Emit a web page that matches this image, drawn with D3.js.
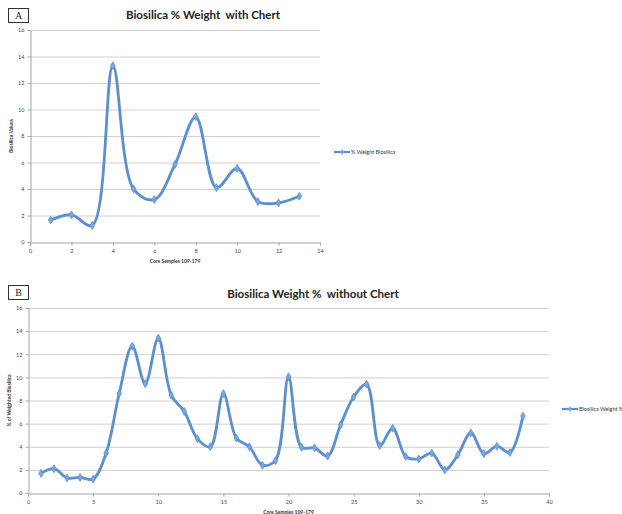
<!DOCTYPE html>
<html>
<head>
<meta charset="utf-8">
<script src="https://cdn.jsdelivr.net/npm/d3@7"></script>
<style>
html,body{margin:0;padding:0;background:#fff;}
svg{display:block;}
text.title{white-space:pre;}
</style>
</head>
<body>
<svg id="c" width="622" height="514"></svg>
<script>
// Chart A data
const samplesA = [1,2,3,4,5,6,7,8,9,10,11,12,13];
const valuesA = [1.65,2.05,1.25,13.3,4.0,3.2,5.85,9.45,4.1,5.55,3.05,2.95,3.45];
const xTicksA = [0,2,4,6,8,10,12,14];
const yTicks = [0,2,4,6,8,10,12,14,16];

// Chart B data
const samplesB = d3.range(1,39);
const valuesB = [1.7,2.1,1.3,1.35,1.2,3.45,8.6,12.7,9.45,13.4,8.45,7.05,4.7,4.0,8.6,4.75,4.0,2.4,2.8,10.05,
                 3.95,3.9,3.2,5.9,8.3,9.4,4.1,5.6,3.15,2.95,3.45,2.0,3.3,5.2,3.4,4.05,3.5,6.65];
const xTicksB = [0,5,10,15,20,25,30,35,40];

const titles = ["Biosilica % Weight  with Chert", "Biosilica Weight %  without Chert"];
const yTitles = ["Biosilica Values", "% of Weighted Biosilica"];
const xTitle = "Core Samples 109-179";
const legends = ["% Weight Biosilica", "Biosilica Weight %"];
const panels = ["A","B"];

const svg = d3.select("#c");
const lineColor = "#5a8fd0";

function drawChart(cfg){
  const g = svg.append("g");
  const x = d3.scaleLinear().domain(cfg.xDomain).range([cfg.left, cfg.right]);
  const y = d3.scaleLinear().domain([0,16]).range([cfg.bottom, cfg.top]);

  // panel box
  g.append("rect").attr("x",8.5).attr("y",cfg.boxY+0.5).attr("width",20).attr("height",14)
    .attr("fill","#fff").attr("stroke","#333").attr("stroke-width",1);
  g.append("text").attr("x",18.5).attr("y",cfg.boxY+11).attr("text-anchor","middle")
    .attr("font-family","Liberation Serif, serif").attr("font-size",10).attr("fill","#222").text(cfg.panel);

  // gridlines
  g.append("g").selectAll("line").data(yTicks.filter(d=>d>0)).join("line")
    .attr("x1",cfg.left).attr("x2",cfg.right).attr("y1",d=>y(d)+0.5).attr("y2",d=>y(d)+0.5)
    .attr("stroke","#d0d0d0").attr("stroke-width",1);

  // axes
  const ya = d3.axisLeft(y).tickValues(yTicks).tickSize(3).tickFormat(d3.format("d"));
  const yg = g.append("g").attr("transform",`translate(${cfg.left+0.5},0)`).call(ya);
  const xa = d3.axisBottom(x).tickValues(cfg.xTicks).tickSize(3).tickFormat(d3.format("d"));
  const xg = g.append("g").attr("transform",`translate(0,${cfg.bottom+0.5})`).call(xa);
  [yg,xg].forEach(a=>{
    a.select(".domain").attr("stroke","#a6a6a6");
    a.selectAll(".tick line").attr("stroke","#a6a6a6");
    a.selectAll("text").attr("font-family","Lato, Open Sans, sans-serif").attr("font-size",5.5).attr("fill","#444");
  });
  xg.selectAll("text").attr("dy","0.9em");

  // title
  g.append("text").attr("class","title").attr("x",cfg.titleX).attr("y",cfg.titleY).attr("text-anchor","middle")
    .attr("font-family","Lato, Open Sans, sans-serif").attr("font-weight","bold").attr("font-size",11.5)
    .attr("fill","#222").text(cfg.title);
  // axis titles
  g.append("text").attr("x",(cfg.left+cfg.right)/2).attr("y",cfg.bottom+21).attr("text-anchor","middle")
    .attr("font-family","Lato, Open Sans, sans-serif").attr("font-weight","bold").attr("font-size",5)
    .attr("fill","#333").text(xTitle);
  g.append("text").attr("transform",`translate(${cfg.yTitleX},${(cfg.top+cfg.bottom)/2}) rotate(-90)`)
    .attr("text-anchor","middle")
    .attr("font-family","Lato, Open Sans, sans-serif").attr("font-weight","bold").attr("font-size",5)
    .attr("fill","#333").text(cfg.yTitle);

  // line
  const data = cfg.xs.map((d,i)=>[d,cfg.ys[i]]);
  const line = d3.line().x(d=>x(d[0])).y(d=>y(d[1])).curve(d3.curveCatmullRom.alpha(0.5));
  g.append("path").datum(data).attr("d",line).attr("fill","none")
    .attr("stroke",lineColor).attr("stroke-width",2.8).attr("stroke-linejoin","round");
  g.append("g").selectAll("path").data(data).join("path")
    .attr("transform",d=>`translate(${x(d[0])},${y(d[1])})`)
    .attr("d",d3.symbol(d3.symbolDiamond,18)())
    .attr("fill","#7aa7dc").attr("stroke",lineColor).attr("stroke-width",0.8);

  // legend
  g.append("line").attr("x1",cfg.legX).attr("x2",cfg.legX+16).attr("y1",cfg.legY).attr("y2",cfg.legY)
    .attr("stroke",lineColor).attr("stroke-width",2.2);
  g.append("path").attr("transform",`translate(${cfg.legX+8},${cfg.legY})`)
    .attr("d",d3.symbol(d3.symbolDiamond,10)()).attr("fill","#7aa7dc");
  g.append("text").attr("x",cfg.legX+17).attr("y",cfg.legY+2)
    .attr("font-family","Lato, Open Sans, sans-serif").attr("font-size",5.5).attr("fill","#333").text(cfg.legend);
}

drawChart({panel:panels[0], boxY:8, xDomain:[0,14], left:30, right:320, top:30, bottom:242,
  xTicks:xTicksA, xs:samplesA, ys:valuesA, title:titles[0], titleX:203, titleY:19,
  yTitle:yTitles[0], yTitleX:13, legend:legends[0], legX:334, legY:152});

drawChart({panel:panels[1], boxY:285, xDomain:[0,40], left:28, right:549, top:308, bottom:493,
  xTicks:xTicksB, xs:samplesB, ys:valuesB, title:titles[1], titleX:313, titleY:298,
  yTitle:yTitles[1], yTitleX:11, legend:legends[1], legX:562, legY:409});
</script>
</body>
</html>
